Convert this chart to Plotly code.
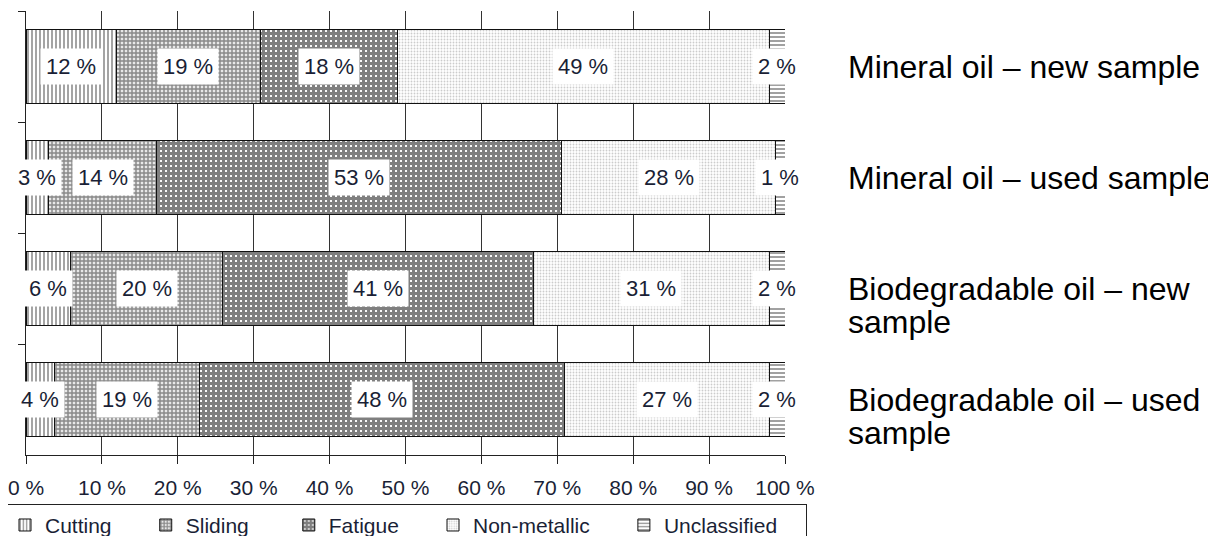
import plotly.graph_objects as go

# ---- data ----
categories = [
    "Mineral oil – new sample",
    "Mineral oil – used sample",
    "Biodegradable oil – new sample",
    "Biodegradable oil – used sample",
]
category_label_lines = [
    ["Mineral oil – new sample"],
    ["Mineral oil – used sample"],
    ["Biodegradable oil – new", "sample"],
    ["Biodegradable oil – used", "sample"],
]
series_names = ["Cutting", "Sliding", "Fatigue", "Non-metallic", "Unclassified"]
cutting = [11.9, 3.0, 5.9, 3.8]
sliding = [19.0, 14.2, 20.0, 19.0]
fatigue = [18.1, 53.4, 41.0, 48.1]
non_metallic = [48.9, 28.2, 31.0, 27.0]
unclassified = [2.1, 1.2, 2.1, 2.1]
x_tick_values = [0, 10, 20, 30, 40, 50, 60, 70, 80, 90, 100]

series_values = [cutting, sliding, fatigue, non_metallic, unclassified]

# ---- styles ----
patterns = [
    dict(shape="|", fgcolor="#4a4a4a", bgcolor="white", size=4, solidity=0.5),
    dict(shape="+", fgcolor="#2a2a2a", bgcolor="#e8e8e8", size=4, solidity=0.6),
    dict(shape="+", fgcolor="#000000", bgcolor="white", size=5, solidity=0.85),
    dict(shape=".", fgcolor="#9a9a9a", bgcolor="white", size=3, solidity=0.3),
    dict(shape="-", fgcolor="#444444", bgcolor="white", size=4, solidity=0.5),
]
legend_pad = [5, 6, 5, 5, 4]
FONT = "Liberation Sans, Arial, sans-serif"
TEXT_COLOR = "#1a1f36"

fig = go.Figure()
for name, npad, vals, pat in zip(series_names, legend_pad, series_values, patterns):
    fig.add_trace(go.Bar(
        name=name + "\u00a0" * npad,
        y=categories,
        x=vals,
        orientation="h",
        marker=dict(color="white", pattern=pat, line=dict(color="#111111", width=1)),
        hoverinfo="skip",
    ))

annotations = []
# segment value labels with white boxes
for ci, cat in enumerate(categories):
    start = 0.0
    for vals in series_values:
        v = vals[ci]
        annotations.append(dict(
            x=start + v / 2, y=cat, xref="x", yref="y",
            text=f"{round(v)} %", showarrow=False,
            font=dict(family=FONT, size=22, color=TEXT_COLOR),
            bgcolor="white", borderpad=5,
        ))
        start += v

# category labels on the right
for cat, lines in zip(categories, category_label_lines):
    for li, line in enumerate(lines):
        annotations.append(dict(
            x=1.0804, y=cat, xref="paper", yref="y",
            text=line, showarrow=False, xanchor="left", yanchor="middle",
            yshift=-33 * li,
            font=dict(family=FONT, size=32, color="black"),
        ))

# page body has an 8px default margin, so margins compensate for it
fig.update_layout(
    width=1216, height=536,
    margin=dict(l=18, r=439, t=3, b=89, autoexpand=False),
    paper_bgcolor="white", plot_bgcolor="white",
    barmode="stack", bargap=0.335,
    showlegend=True,
    legend=dict(
        orientation="h", traceorder="normal",
        x=1.029, xanchor="right", y=-0.11, yanchor="top",
        bgcolor="white", bordercolor="#222222", borderwidth=1,
        font=dict(family=FONT, size=21, color=TEXT_COLOR),
    ),
    annotations=annotations,
    font=dict(family=FONT),
)
fig.update_xaxes(
    range=[0, 100], tickvals=x_tick_values,
    ticktext=[f"{v} %" for v in x_tick_values],
    ticks="outside", ticklen=8, tickcolor="#222222", tickwidth=1.3,
    ticklabelstandoff=6, ticklabeloverflow="allow",
    showgrid=True, gridcolor="#333333", gridwidth=1.3,
    showline=True, linecolor="#222222", linewidth=1.3,
    zeroline=False,
    tickfont=dict(family=FONT, size=21, color=TEXT_COLOR),
)
fig.update_yaxes(
    categoryorder="array", categoryarray=categories, autorange="reversed",
    showticklabels=False, ticks="outside", tickson="boundaries", ticklen=7,
    tickcolor="#222222", tickwidth=1.3,
    showgrid=False, showline=True, linecolor="#222222", linewidth=1.3,
    zeroline=False,
)

fig.write_html("out.html")
